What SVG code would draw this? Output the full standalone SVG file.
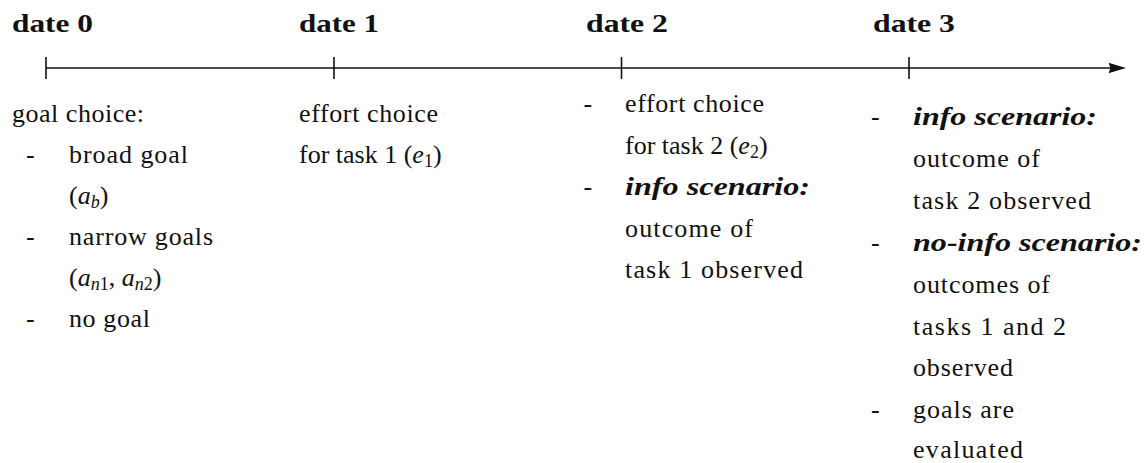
<svg xmlns="http://www.w3.org/2000/svg" width="1144" height="463" viewBox="0 0 1144 463" font-family="Liberation Serif" font-size="26">
<style>
text{fill:#111}
.b{font-weight:bold}
.bi{font-weight:bold;font-style:italic}
.i{font-style:italic}
.s{font-size:18px}
.ax{stroke:#111;stroke-width:1.6;fill:none}
</style>
<rect width="1144" height="463" fill="#fff"/>
<g id="connectors">
<line class="ax" x1="46" y1="68" x2="1112" y2="68"/>
<polygon points="1126,68 1108.5,62.8 1110.5,68 1108.5,73.2" fill="#111"/>
<line class="ax" x1="46" y1="57" x2="46" y2="79"/>
<line class="ax" x1="334" y1="57" x2="334" y2="79"/>
<line class="ax" x1="621.5" y1="57" x2="621.5" y2="79"/>
<line class="ax" x1="909" y1="57" x2="909" y2="79"/>
</g>
<g id="date0" font-family="Liberation Serif">
<text class="b" x="12" y="32" textLength="81" lengthAdjust="spacingAndGlyphs">date 0</text>
<text x="12" y="122" textLength="132">goal choice:</text>
<text x="26" y="163">-</text>
<text x="69" y="163" textLength="119">broad goal</text>
<text x="69" y="204">(<tspan class="i">a</tspan><tspan class="i s" dy="4">b</tspan><tspan dy="-4">)</tspan></text>
<text x="26" y="245">-</text>
<text x="69" y="245" textLength="144">narrow goals</text>
<text x="69" y="286">(<tspan class="i">a</tspan><tspan class="i s" dy="4">n</tspan><tspan class="s">1</tspan><tspan dy="-4">, </tspan><tspan class="i">a</tspan><tspan class="i s" dy="4">n</tspan><tspan class="s">2</tspan><tspan dy="-4">)</tspan></text>
<text x="26" y="327">-</text>
<text x="69" y="327" textLength="81">no goal</text>
</g>
<g id="date1" font-family="Liberation Serif">
<text class="b" x="299" y="32" textLength="80" lengthAdjust="spacingAndGlyphs">date 1</text>
<text x="299" y="122" textLength="139">effort choice</text>
<text x="299" y="163">for task 1 (<tspan class="i">e</tspan><tspan class="s" dy="4">1</tspan><tspan dy="-4">)</tspan></text>
</g>
<g id="date2" font-family="Liberation Serif">
<text class="b" x="586" y="32" textLength="82" lengthAdjust="spacingAndGlyphs">date 2</text>
<text x="583.5" y="112">-</text>
<text x="625" y="112" textLength="139">effort choice</text>
<text x="625" y="153.5">for task 2 (<tspan class="i">e</tspan><tspan class="s" dy="4">2</tspan><tspan dy="-4">)</tspan></text>
<text x="583.5" y="195">-</text>
<text class="bi" x="625" y="195" textLength="185" lengthAdjust="spacingAndGlyphs">info scenario:</text>
<text x="625" y="236.5" textLength="128">outcome of</text>
<text x="625" y="278" textLength="178">task 1 observed</text>
</g>
<g id="date3" font-family="Liberation Serif">
<text class="b" x="873" y="32" textLength="82" lengthAdjust="spacingAndGlyphs">date 3</text>
<text x="871" y="125">-</text>
<text class="bi" x="913" y="125" textLength="184" lengthAdjust="spacingAndGlyphs">info scenario:</text>
<text x="913" y="167" textLength="127">outcome of</text>
<text x="913" y="209" textLength="178">task 2 observed</text>
<text x="871" y="251">-</text>
<text class="bi" x="913" y="251" textLength="229" lengthAdjust="spacingAndGlyphs">no-info scenario:</text>
<text x="913" y="293" textLength="137">outcomes of</text>
<text x="913" y="335" textLength="153">tasks 1 and 2</text>
<text x="913" y="376" textLength="100">observed</text>
<text x="871" y="418">-</text>
<text x="913" y="418" textLength="101">goals are</text>
<text x="913" y="458" textLength="110">evaluated</text>
</g>
</svg>
